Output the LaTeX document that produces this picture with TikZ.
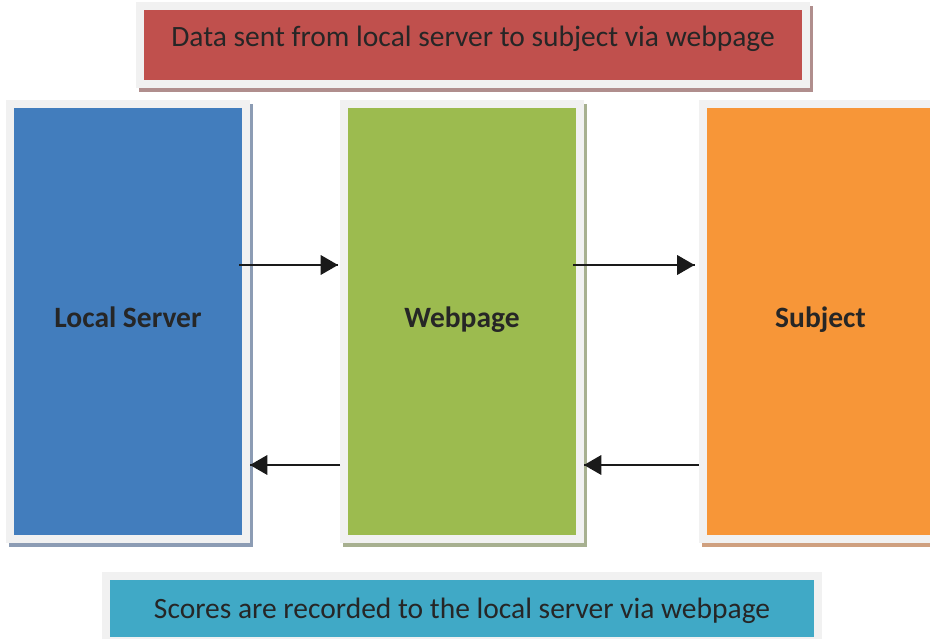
\documentclass[tikz,border=0pt]{standalone}
\usepackage{fontspec}
\setmainfont{Carlito}
\usetikzlibrary{arrows}
\usetikzlibrary{decorations.markings}
\usetikzlibrary{shadows}
\tikzset{flow/.style = {line width=2pt, draw=marrow,
                        decoration={markings,
                                    mark=at position 1 with {\arrow[scale=1.6]{triangle 60}}},
                        postaction={decorate}}}
\tikzset{panel/.style = {draw=mframe, line width=8pt, inner sep=0pt, text=mtext,
                         font=\fontsize{29.5}{34}\selectfont, text height=20pt}}
\tikzset{column/.style = {panel, minimum width=236pt, minimum height=434pt,
                          font=\fontsize{29.5}{34}\selectfont\bfseries, text depth=9pt}}
\tikzset{cast/.style = {drop shadow={shadow xshift=3pt, shadow yshift=-4pt, opacity=1,
                                     fill=#1, draw=#1, line width=8pt}}}
\definecolor{mframe}{HTML}{F1F1F1}
\definecolor{mtext}{HTML}{262626}
\definecolor{marrow}{HTML}{1A1A1A}
\definecolor{mred}{HTML}{C0504D}
\definecolor{mredshadow}{HTML}{B08E8D}
\definecolor{mblue}{HTML}{427DBD}
\definecolor{mblueshadow}{HTML}{8C9CB4}
\definecolor{mgreen}{HTML}{9CBB4F}
\definecolor{mgreenshadow}{HTML}{A7B090}
\definecolor{morange}{HTML}{F79638}
\definecolor{morangeshadow}{HTML}{CFA07F}
\definecolor{mcyan}{HTML}{40A9C6}

\begin{document}
\begin{tikzpicture}[x=1pt, y=-1pt]
      \useasboundingbox [fill=white] (0, 0) rectangle (930, 639);

      \node [panel, cast=mredshadow, fill=mred, minimum width=666pt, minimum height=78.5pt, text depth=18pt]
            (sent) at (473, 45.25) {Data sent from local server to subject via webpage};

      \node [column, cast=mblueshadow, fill=mblue] (local) at (128, 321.5) {Local Server};
      \node [column, cast=mgreenshadow, fill=mgreen] (web) at (462, 321.5) {Webpage};
      \node [column, cast=morangeshadow, fill=morange] (subject) at (820.5, 321.5) {Subject};

      \node [panel, fill=mcyan, minimum width=712pt, minimum height=65pt, text depth=1pt]
            (scores) at (462, 608.5) {Scores are recorded to the local server via webpage};

      % data going out
      \draw [flow] ([xshift=-11pt, yshift=56.5pt]local.east) -- ([xshift=-2pt, yshift=56.5pt]web.west);
      \draw [flow] ([xshift=-11pt, yshift=56.5pt]web.east) -- ([xshift=-4pt, yshift=56.5pt]subject.west);

      % scores coming back
      \draw [flow] ([yshift=-143.5pt]subject.west) -- ([yshift=-143.5pt]web.east);
      \draw [flow] ([yshift=-143.5pt]web.west) -- ([yshift=-143.5pt]local.east);
    \end{tikzpicture}
\end{document}
